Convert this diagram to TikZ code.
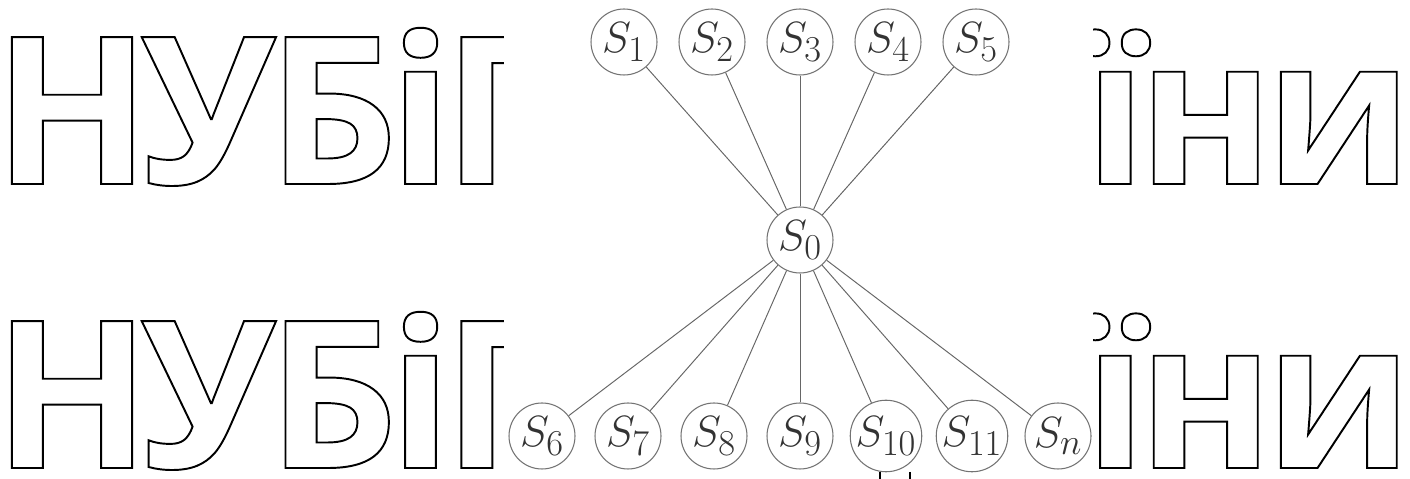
\documentclass[tikz,border=0pt]{standalone}
\usepackage{fontspec}
\newfontfamily\wmfont{Open Sans}[LetterSpace=-4.4]
\usepackage{tikz}
\tikzset{
  state/.style={circle, draw=black!55, line width=0.6pt, minimum size=13.2mm,
    inner sep=0pt, text=black!80, font=\Huge},
  link/.style={black!60, line width=0.55pt},
  wmark/.style={inner sep=0pt, anchor=base west,
    font=\wmfont\bfseries\fontsize{117}{117}\selectfont}
}
% stroked (hollow) letters
\newcommand{\outlined}[1]{\special{pdf:literal direct 1 Tr 1.1 w}#1\special{pdf:literal direct 0 Tr}}

\begin{document}
\begin{tikzpicture}[x=0.2mm, y=-0.2mm]
  \useasboundingbox (0,0) rectangle (1410,479);

  % === WATERMARK ===
  \node[wmark] (wmTopL) at (-7,184) {\outlined{НУБіП}};
  \node[wmark, anchor=base east] (wmTopR) at (1413,184) {\outlined{України}};
  \node[wmark] (wmBotL) at (-7,468) {\outlined{НУБіП}};
  \node[wmark, anchor=base east] (wmBotR) at (1413,468) {\outlined{України}};
  % white field of the scheme
  \fill[white] (504,0) rectangle (1093,479);
  \draw[black, line width=0.8pt] (880,472) -- (880,479);
  \draw[black, line width=0.8pt] (910,472) -- (910,479);

  % === CENTRE ===
  \node[state] (s0) at (800,240) {$S_{0}$};

  % === UPPER ROW ===
  \node[state] (s1) at (624,42) {$S_{1}$};
  \node[state] (s2) at (712,42) {$S_{2}$};
  \node[state] (s3) at (800,42) {$S_{3}$};
  \node[state] (s4) at (888,42) {$S_{4}$};
  \node[state] (s5) at (976,42) {$S_{5}$};

  % === LOWER ROW ===
  \node[state] (s6) at (542,436) {$S_{6}$};
  \node[state] (s7) at (628,436) {$S_{7}$};
  \node[state] (s8) at (714,436) {$S_{8}$};
  \node[state] (s9) at (800,436) {$S_{9}$};
  \node[state] (s10) at (886,436) {$S_{10}$};
  \node[state] (s11) at (972,436) {$S_{11}$};
  \node[state] (sn) at (1058,436) {$S_{n}$};

  % Links to the centre
  \draw[link] (s0) -- (s1);
  \draw[link] (s0) -- (s2);
  \draw[link] (s0) -- (s3);
  \draw[link] (s0) -- (s4);
  \draw[link] (s0) -- (s5);
  \draw[link] (s0) -- (s6);
  \draw[link] (s0) -- (s7);
  \draw[link] (s0) -- (s8);
  \draw[link] (s0) -- (s9);
  \draw[link] (s0) -- (s10);
  \draw[link] (s0) -- (s11);
  \draw[link] (s0) -- (sn);

\end{tikzpicture}
\end{document}
